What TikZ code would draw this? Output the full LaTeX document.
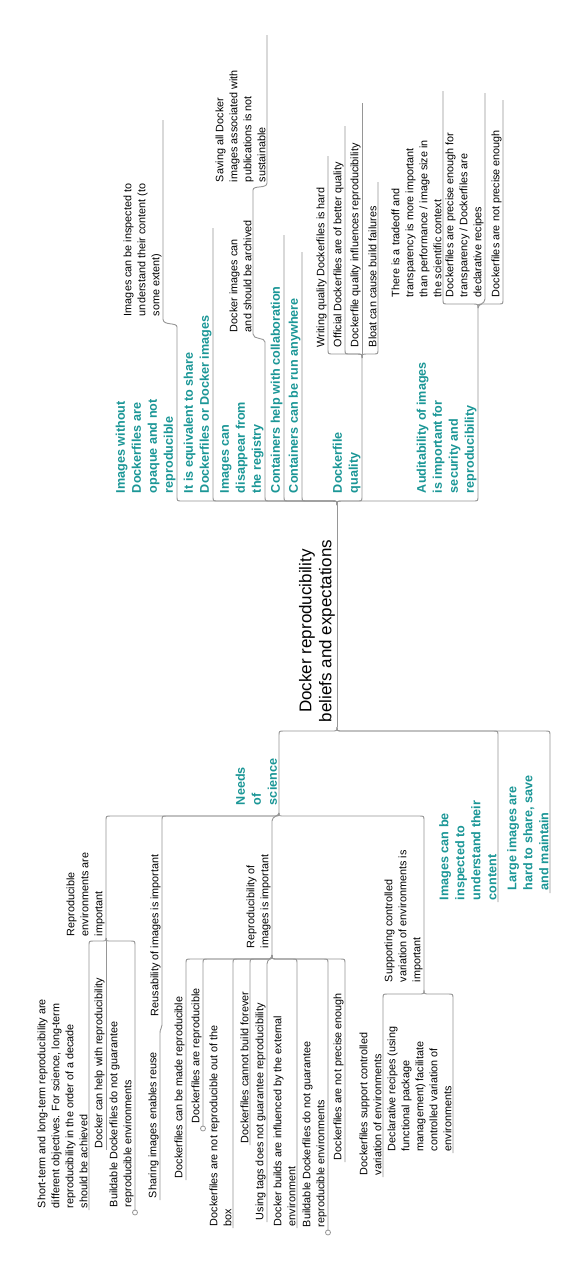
\documentclass[tikz,border=0pt]{standalone}
\usepackage{fontspec}
\setmainfont{Liberation Sans}
\usetikzlibrary{calc}
\definecolor{tealtxt}{RGB}{26,150,150}
\definecolor{lin}{RGB}{150,150,150}
% arm of a bracket: #1 jx, #2 jy, #3 bracket y, #4 child x, #5 end y
\newcommand\arm[5]{%
  \pgfmathsetmacro\sx{ifthenelse(#4>#1,1,-1)}%
  \pgfmathsetmacro\sy{ifthenelse(#5>#3,1,-1)}%
  \draw[conn] (#1,#2) .. controls (#1,#3) .. ({#1+\sx*6},#3) -- ({#4-\sx*5},#3) .. controls (#4,#3) .. (#4,{#3+\sy*5}) -- (#4,#5);}
% short arm (child nearly under junction)
\newcommand\armS[5]{%
  \pgfmathsetmacro\sy{ifthenelse(#5>#3,1,-1)}%
  \draw[conn] (#1,#2) .. controls (#1,#3) and (#4,#3) .. (#4,{#3+\sy*5}) -- (#4,#5);}
\begin{document}
\begin{tikzpicture}[x=1pt,y=-1pt,
  conn/.style={draw=lin, line width=0.9pt},
  sm/.style={font=\fontsize{10.8}{14}\selectfont, align=left, inner sep=0pt, outer sep=0pt, rotate=90, anchor=south west, text=black},
  tb/.style={font=\fontsize{12.6}{16}\selectfont\bfseries, align=left, inner sep=0pt, outer sep=0pt, rotate=90, anchor=south west, text=tealtxt},
  ctr/.style={font=\fontsize{17}{20}\selectfont, align=center, inner sep=0pt, outer sep=0pt, rotate=90, anchor=south},
  dot/.style={circle, draw=lin, fill=white, line width=0.8pt, minimum size=5pt, inner sep=0pt}]
\useasboundingbox[fill=white] (0,0) rectangle (587,1264);

% ---------- central topic ----------
\node[ctr] (root) at (335,631) {Docker reproducibility\\beliefs and expectations};
\coordinate (jtop) at (337,505);
\coordinate (jbot) at (337,727);
\draw[conn] (jtop) -- (jbot);

% ---------- upper half ----------
\arm{337}{505}{501}{177}{327}
\draw[conn] (177,327) .. controls (177,322) and (163,326) .. (163,319) -- (163,120);
\arm{337}{505}{501}{213}{228}
\arm{337}{505}{501}{265}{342}
\draw[conn] (265,342) .. controls (265,337) and (253,340) .. (253,334) -- (253,190);
\draw[conn] (253,190) .. controls (253,185) and (267,189) .. (267,183) -- (267,35);
\arm{337}{505}{501}{284}{235}
\arm{337}{505}{501}{302}{252}
\arm{337}{505}{501}{362}{358}
\coordinate (jdq) at (362,358);
\arm{362}{358}{354}{328}{156}
\arm{362}{358}{354}{345}{126}
\draw[conn] (jdq) -- (362,103);
\arm{362}{358}{354}{378}{182}
\arm{337}{505}{501}{478}{308}
\coordinate (jaud) at (478,308);
\arm{478}{308}{304}{443}{91}
\armS{478}{308}{304}{485}{93}
\arm{478}{308}{304}{503}{100}

\node[tb] (t1) at (175.5,493) {Images without\\Dockerfiles are\\opaque and not\\reproducible};
\node[sm] (t1a) at (161.5,316) {Images can be inspected to\\understand their content (to\\some extent)};
\node[tb] (t2) at (211.5,493) {It is equivalent to share\\Dockerfiles or Docker images};
\node[tb] (t3) at (263.5,493) {Images can\\disappear from\\the registry};
\node[sm] (t3a) at (251.5,332) {Docker images can\\and should be archived};
\node[sm] (t3b) at (265.5,182) {Saving all Docker\\images associated with\\publications is not\\sustainable};
\node[tb] (t4) at (282.5,493) {Containers help with collaboration};
\node[tb] (t5) at (300.5,493) {Containers can be run anywhere};
\node[tb] (t6) at (360.5,493) {Dockerfile\\quality};
\node[sm] (t6a) at (326.5,347) {Writing quality Dockerfiles is hard};
\node[sm] (t6b) at (343.5,347) {Official Dockerfiles are of better quality};
\node[sm] (t6c) at (360.5,347) {Dockerfile quality influences reproducibility};
\node[sm] (t6d) at (376.5,347) {Bloat can cause build failures};
\node[tb] (t7) at (476.5,493) {Auditability of images\\is important for\\security and\\reproducibility};
\node[sm] (t7a) at (441.5,297) {There is a tradeoff and\\transparency is more important\\than performance / image size in\\the scientific context};
\node[sm] (t7b) at (483.5,297) {Dockerfiles are precise enough for\\transparency / Dockerfiles are\\declarative recipes};
\node[sm] (t7c) at (501.5,297) {Dockerfiles are not precise enough};

% ---------- lower half ----------
\arm{337}{727}{731}{279}{813}
\arm{337}{727}{731}{498}{902}
\arm{337}{727}{731}{550}{893}
\coordinate (jneeds) at (279,813);
\arm{279}{813}{816}{106}{938}
\arm{279}{813}{816}{162}{1025}
\armS{279}{813}{816}{272}{955}
\arm{279}{813}{816}{424}{990}
% reproducible environments
\arm{106}{938}{941}{89}{1210}
\draw[conn] (106,938) -- (106,1150);
\arm{106}{938}{941}{135}{1210}
\node[dot] (c1) at (135,1212.5) {};
% reusability
\draw[conn] (162,1025) .. controls (162,1029) and (160,1028) .. (160,1033) -- (160,1200);
% reproducibility of images
\arm{272}{955}{959}{186}{1180}
\arm{272}{955}{959}{203}{1126}
\node[dot] (c2) at (203,1128.5) {};
\arm{272}{955}{959}{233}{1228}
\arm{272}{955}{959}{250}{1145}
\armS{272}{955}{959}{267}{1222}
\arm{272}{955}{959}{297}{1228}
\arm{272}{955}{959}{328}{1230}
\node[dot] (c3) at (328,1232.5) {};
\arm{272}{955}{959}{345}{1162}
% supporting controlled variation
\arm{424}{990}{994}{383}{1177}
\arm{424}{990}{994}{453}{1153}

\node[tb] (b1) at (277,805) {Needs\\of\\science};
\node[sm] (b1a) at (104.5,936) {Reproducible\\environments are\\important};
\node[sm] (b1a1) at (87.5,1208) {Short-term and long-term reproducibility are\\different objectives. For science, long-term\\reproducibility in the order of a decade\\should be achieved};
\node[sm] (b1a2) at (104.5,1148) {Docker can help with reproducibility};
\node[sm] (b1a3) at (133.5,1207) {Buildable Dockerfiles do not guarantee\\reproducible environments};
\node[sm] (b1b) at (160.5,1016) {Reusability of images is important};
\node[sm] (b1b1) at (158.5,1198) {Sharing images enables reuse};
\node[sm] (b1c) at (270.5,948) {Reproducibility of\\images is important};
\node[sm] (r1) at (184.5,1178) {Dockerfiles can be made reproducible};
\node[sm] (r2) at (201.5,1123) {Dockerfiles are reproducible};
\node[sm] (r3) at (231.5,1226) {Dockerfiles are not reproducible out of the\\box};
\node[sm] (r4) at (248.5,1143) {Dockerfiles cannot build forever};
\node[sm] (r5) at (265.5,1220) {Using tags does not guarantee reproducibility};
\node[sm] (r6) at (295.5,1226) {Docker builds are influenced by the external\\environment};
\node[sm] (r7) at (326.5,1227) {Buildable Dockerfiles do not guarantee\\reproducible environments};
\node[sm] (r8) at (343.5,1160) {Dockerfiles are not precise enough};
\node[sm] (b1d) at (422.5,982) {Supporting controlled\\variation of environments is\\important};
\node[sm] (s1) at (381.5,1175) {Dockerfiles support controlled\\variation of environments};
\node[sm] (s2) at (451.5,1151) {Declarative recipes (using\\functional package\\management) facilitate\\controlled variation of\\environments};
\node[tb] (b2) at (496.5,900) {Images can be\\inspected to\\understand their\\content};
\node[tb] (b3) at (548.5,890) {Large images are\\hard to share, save\\and maintain};
\end{tikzpicture}
\end{document}
